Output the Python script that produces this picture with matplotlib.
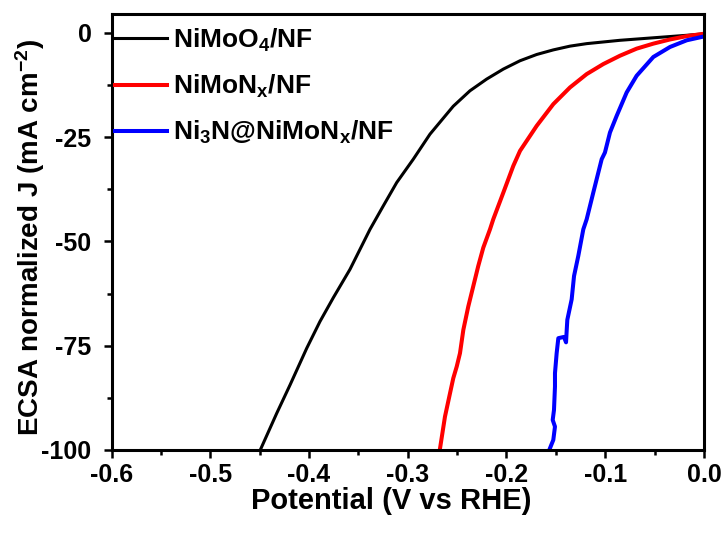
import matplotlib
matplotlib.use("Agg")
import matplotlib.pyplot as plt
from matplotlib.ticker import MultipleLocator

# data (potential in V vs RHE, J in mA cm-2)
v_nimoo4 = [-0.4486, -0.4327, -0.4192, -0.4023, -0.3889, -0.3754, -0.3585, -0.3382,
            -0.3248, -0.3112, -0.2944, -0.2775, -0.2606, -0.2539, -0.2370, -0.2201,
            -0.2032, -0.1863, -0.1694, -0.1526, -0.1357, -0.1188, -0.0851, -0.0513,
            -0.0175, -0.0023]
j_nimoo4 = [-99.6, -91.2, -84.4, -75.6, -69.2, -63.5, -56.7, -47.1,
            -41.5, -35.9, -30.3, -24.3, -19.5, -17.6, -13.9, -11.1,
            -8.7, -6.7, -5.2, -4.1, -3.2, -2.6, -1.8, -1.2,
            -0.6, -0.3]

v_nimonx = [-0.2673, -0.2623, -0.2572, -0.2539, -0.2504, -0.2471, -0.2437, -0.2387,
            -0.2336, -0.2286, -0.2235, -0.2167, -0.2134, -0.2032, -0.1931, -0.1863,
            -0.1694, -0.1526, -0.1357, -0.1188, -0.1020, -0.0851, -0.0682, -0.0513,
            -0.0344, -0.0175, -0.0023]
j_nimonx = [-99.6, -92.0, -86.4, -82.8, -80.0, -76.8, -71.2, -65.6,
            -60.7, -55.9, -51.5, -47.1, -44.7, -38.3, -31.9, -28.3,
            -22.3, -17.1, -13.1, -9.9, -7.5, -5.5, -3.8, -2.6,
            -1.6, -0.8, -0.3]

v_ni3n = [-0.1560, -0.1526, -0.1509, -0.1532, -0.1519, -0.1509, -0.1509, -0.1492,
          -0.1475, -0.1418, -0.1397, -0.1390, -0.1384, -0.1340, -0.1316, -0.1273,
          -0.1222, -0.1188, -0.1121, -0.1036, -0.1003, -0.0952, -0.0884, -0.0783,
          -0.0682, -0.0513, -0.0344, -0.0175, -0.0023]
j_ni3n = [-99.6, -97.6, -94.4, -92.8, -90.4, -84.8, -81.6, -76.8,
          -73.2, -72.9, -74.2, -71.2, -68.8, -63.9, -58.3, -53.5,
          -47.1, -44.7, -38.3, -30.3, -28.7, -23.9, -19.9, -14.3,
          -10.3, -5.8, -3.4, -1.8, -1.0]

labels = ["NiMoO$_4$/NF", "NiMoN$_x$/NF", "Ni$_3$N@NiMoN$_x$/NF"]
colors = ["black", "red", "blue"]

plt.rcParams['font.family'] = ['Liberation Sans', 'DejaVu Sans']
plt.rcParams['font.weight'] = 'bold'
plt.rcParams['axes.unicode_minus'] = False
plt.rcParams['mathtext.fontset'] = 'custom'
plt.rcParams['mathtext.rm'] = 'Liberation Sans:bold'
plt.rcParams['mathtext.bf'] = 'Liberation Sans:bold'
plt.rcParams['mathtext.default'] = 'bf'

fig = plt.figure(figsize=(7.28, 5.35), dpi=100)
ax = fig.add_axes([0.1532, 0.1589, 0.8138, 0.8149])

ax.plot(v_nimoo4, j_nimoo4, color=colors[0], lw=2.2, label=labels[0])
ax.plot(v_nimonx, j_nimonx, color=colors[1], lw=2.9, label=labels[1])
ax.plot(v_ni3n, j_ni3n, color=colors[2], lw=2.9, label=labels[2])

ax.set_xlim(-0.6, 0.0)
ax.set_ylim(-100, 4.5)
ax.xaxis.set_major_locator(MultipleLocator(0.1))
ax.xaxis.set_minor_locator(MultipleLocator(0.05))
ax.yaxis.set_major_locator(MultipleLocator(25))
ax.yaxis.set_minor_locator(MultipleLocator(12.5))
ax.tick_params(which='both', direction='out', width=1.8, labelsize=18, top=False, right=False)
ax.tick_params(which='major', length=6)
ax.tick_params(which='minor', length=3.5)
ax.tick_params(axis='y', which='major', pad=8.5)
ax.tick_params(axis='x', which='major', pad=3.5)
for s in ax.spines.values():
    s.set_linewidth(2.2)

ax.set_xlabel("Potential (V vs RHE)", fontsize=21, fontweight='bold')
ax.set_ylabel("ECSA normalized J (mA cm$^{-2}$)", fontsize=20, fontweight='bold')
ax.xaxis.set_label_coords(0.472, -0.086)
ax.yaxis.set_label_coords(-0.109, 0.487)

leg = ax.legend(loc='upper left', bbox_to_anchor=(0.006, 0.971), frameon=False,
                fontsize=19, handlelength=1.95, handletextpad=0.25,
                labelspacing=0.72, borderaxespad=0.0, borderpad=0.0)

fig.savefig("out.png", dpi=100)
